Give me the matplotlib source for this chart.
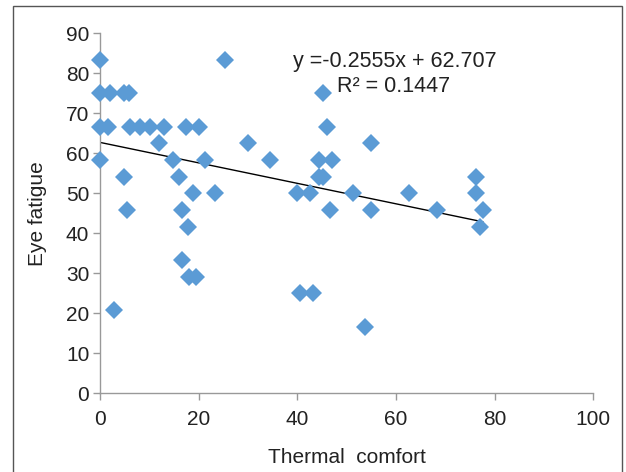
import numpy as np
import matplotlib
matplotlib.use("Agg")
import matplotlib.pyplot as plt
from matplotlib.patches import Rectangle

plt.rcParams['font.family'] = ['Liberation Sans', 'DejaVu Sans']

# thermal comfort (x) and eye fatigue (y)
thermal = [0, 0, 2, 4.7, 5.7,
           0, 1.5, 5.9, 8.1, 10.1, 12.8, 17.4, 20.1,
           25.3, 11.9, 30, 0, 14.7, 21.2, 34.5,
           4.7, 16, 18.7, 23.2, 5.4, 16.6, 17.8,
           16.6, 18, 19.3, 2.7,
           45.1, 46, 55, 44.4, 47.1, 44.4, 45.1,
           39.9, 42.6, 51.2, 62.6, 76.3, 76.3,
           46.5, 55, 68.3, 77.6, 77, 40.5, 43.2, 53.7]
fatigue = [83.3, 75, 75, 75, 75,
           66.7, 66.7, 66.7, 66.7, 66.7, 66.7, 66.7, 66.7,
           83.3, 62.5, 62.5, 58.3, 58.3, 58.3, 58.3,
           54.2, 54.2, 50, 50, 45.8, 45.8, 41.7,
           33.3, 29.2, 29.2, 20.8,
           75, 66.7, 62.5, 58.3, 58.3, 54.2, 54.2,
           50, 50, 50, 50, 50, 54.2,
           45.8, 45.8, 45.8, 45.8, 41.7, 25, 25, 16.7]

slope = -0.2555
intercept = 62.707
r2 = 0.1447

fig = plt.figure(figsize=(6.26, 4.72), dpi=100)
ax = fig.add_axes([0.1605, 0.1667, 0.7868, 0.7627])

ax.plot(thermal, fatigue, linestyle="none", marker="D", markersize=8.7,
        color="#5B9BD5", markeredgewidth=0, zorder=3, clip_on=False)

xs = np.array([min(thermal), max(thermal)])
ax.plot(xs, slope * xs + intercept, color="black", linewidth=1, zorder=2)

ax.set_xlim(0, 100)
ax.set_ylim(0, 90)
ax.set_xticks(np.arange(0, 101, 20))
ax.set_yticks(np.arange(0, 91, 10))

for side in ("top", "right"):
    ax.spines[side].set_visible(False)
for side in ("left", "bottom"):
    ax.spines[side].set_color("#999999")
    ax.spines[side].set_linewidth(1)
ax.tick_params(colors="#999999", labelcolor="#222222", labelsize=15,
               length=5, width=1)
ax.tick_params(axis="x", pad=7)
ax.tick_params(axis="y", pad=3)

ax.set_xlabel("Thermal  comfort", fontsize=15, color="#222222", labelpad=14)
ax.set_ylabel("Eye fatigue", fontsize=15, color="#222222", labelpad=14)

ax.text(59.8, 82.9, f"y =-{abs(slope)}x + {intercept}", fontsize=15.5,
        color="#222222", ha="center", va="center")
ax.text(59.6, 76.6, f"R² = {r2}", fontsize=15.5,
        color="#222222", ha="center", va="center")

# chart area border
fig.patches.append(Rectangle((13 / 626, -0.01), 609 / 626, 1 - 6 / 472 + 0.01,
                             transform=fig.transFigure, fill=False,
                             edgecolor="#555555", linewidth=1))

fig.savefig("out.png", dpi=100)
